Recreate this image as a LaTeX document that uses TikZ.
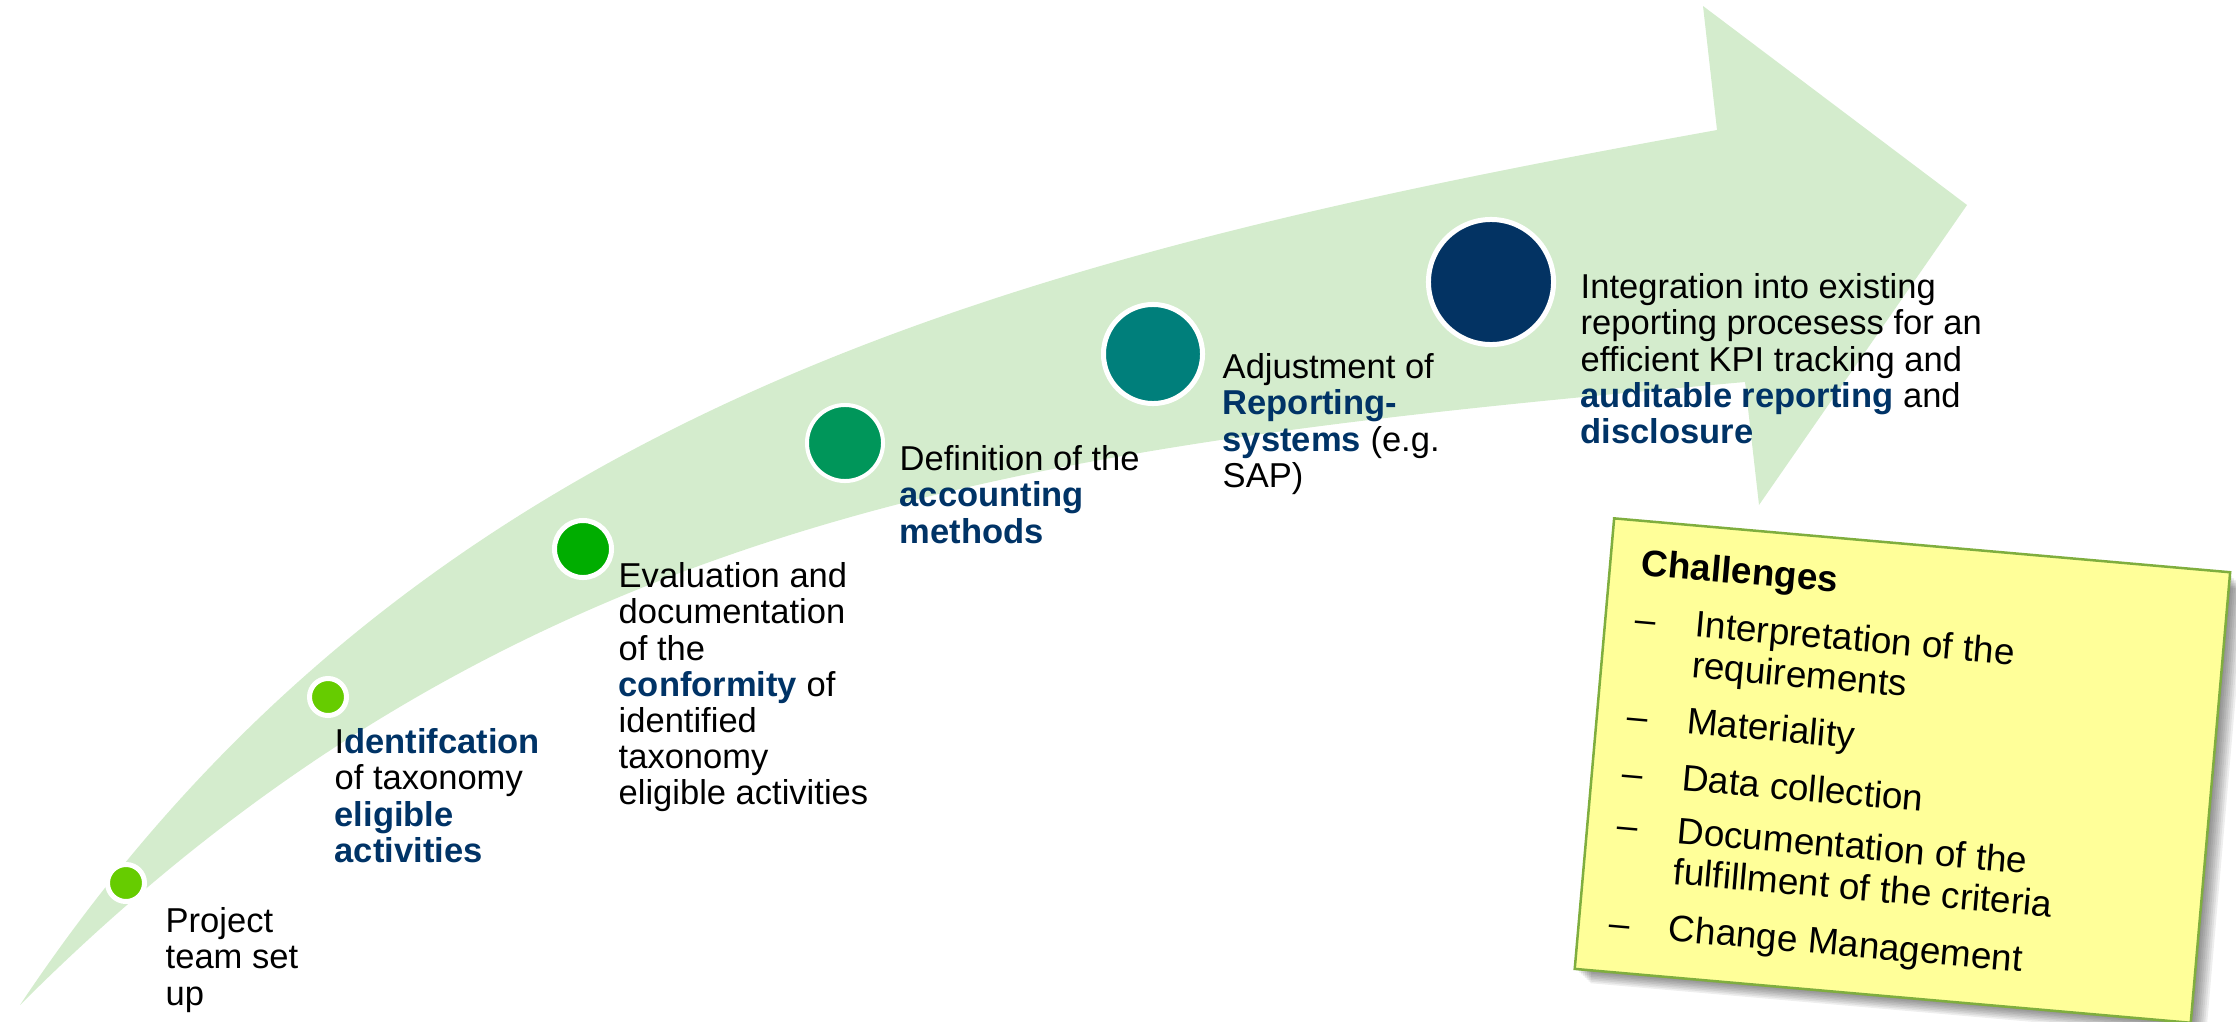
\documentclass[tikz,border=0pt]{standalone}
\usepackage{fontspec}
\setmainfont{Liberation Sans}
\definecolor{arrowgreen}{HTML}{D4ECCD}
\definecolor{navy}{HTML}{003366}
\definecolor{dotA}{HTML}{66CC00}
\definecolor{dotB}{HTML}{00AD00}
\definecolor{dotC}{HTML}{00965A}
\definecolor{dotD}{HTML}{007F7B}
\definecolor{dotE}{HTML}{033363}
\definecolor{notefill}{HTML}{FFFF99}
\definecolor{noteedge}{HTML}{7FAE3E}
\newcommand{\kw}[1]{\textbf{\color{navy}#1}}
\newcommand{\fl}{\rule{0pt}{0.75em}}
\begin{document}
\begin{tikzpicture}[x=0.01cm, y=-0.01cm,
  lbl/.style={anchor=north west, inner sep=0pt, align=left,
    font=\fontsize{9.82}{10.3}\selectfont, text=black},
  dot/.style={circle, draw=white, inner sep=0pt},
  note/.style={anchor=north west, inner sep=0pt, align=left,
    font=\fontsize{10.5}{11.66}\selectfont, transform shape},
]
\useasboundingbox (0,0) rectangle (2236,1021);
% big curved arrow
\coordinate (tail) at (20,1005);
\coordinate (hu) at (1717,130);
\coordinate (ht) at (1703,6);
\coordinate (hp) at (1967,205);
\coordinate (hb) at (1759,505);
\coordinate (hl) at (1745,382);
\fill[arrowgreen] (tail) .. controls (420,405) and (1017,256) .. (hu)
  -- (ht) -- (hp) -- (hb) -- (hl)
  .. controls (1045,445) and (520,505) .. (tail) -- cycle;
% milestone dots
\node[dot, fill=dotA, line width=0.05cm, minimum size=0.37cm] (c1) at (126,883) {};
\node[dot, fill=dotA, line width=0.05cm, minimum size=0.37cm] (c2) at (328,697) {};
\node[dot, fill=dotB, line width=0.05cm, minimum size=0.57cm] (c3) at (583,549) {};
\node[dot, fill=dotC, line width=0.04cm, minimum size=0.76cm] (c4) at (845,443) {};
\node[dot, fill=dotD, line width=0.05cm, minimum size=0.99cm] (c5) at (1153,354) {};
\node[dot, fill=dotE, line width=0.05cm, minimum size=1.25cm] (c6) at (1491,282) {};
% labels
\node[lbl] (t1) at (165,906) {\fl Project\\team set\\up};
\node[lbl] (t2) at (334,727) {\fl I\kw{dentifcation}\\of taxonomy\\\kw{eligible}\\\kw{activities}};
\node[lbl] (t3) at (618,561) {\fl Evaluation and\\documentation\\of the\\\kw{conformity} of\\identified\\taxonomy\\eligible activities};
\node[lbl] (t4) at (899,444) {\fl Definition of the\\\kw{accounting}\\\kw{methods}};
\node[lbl] (t5) at (1222,352) {\fl Adjustment of\\\kw{Reporting-}\\\kw{systems} (e.g.\\SAP)};
\node[lbl] (t6) at (1580,272) {\fl Integration into existing\\reporting procesess for an\\efficient KPI tracking and\\\kw{auditable reporting} and\\\kw{disclosure}};
% challenges note
\begin{scope}[shift={(1613,517)}, rotate=-5]
  \foreach \s in {1,...,9}
    \fill[black, opacity=0.065] (\s*2,\s*1.6+2) rectangle (618+\s*2,452+\s*1.6);
  \node[draw=noteedge, fill=notefill, line width=0.025cm, minimum width=6.18cm,
    minimum height=4.52cm, anchor=north west, inner sep=0pt, transform shape] (box) at (0,0) {};
  \node[note, font=\fontsize{10.5}{11.66}\selectfont\bfseries] (ch) at (32,27) {\fl Challenges};
  \node[note] (d1) at (31,84) {\fl –};
  \node[note] (i1) at (91,84) {\fl Interpretation of the\\requirements};
  \node[note] (d2) at (31,181) {\fl –};
  \node[note] (i2) at (91,181) {\fl Materiality};
  \node[note] (d3) at (31,238) {\fl –};
  \node[note] (i3) at (91,238) {\fl Data collection};
  \node[note] (d4) at (31,291) {\fl –};
  \node[note] (i4) at (91,291) {\fl Documentation of the\\fulfillment of the criteria};
  \node[note] (d5) at (31,389) {\fl –};
  \node[note] (i5) at (91,389) {\fl Change Management};
\end{scope}
\end{tikzpicture}
\end{document}
